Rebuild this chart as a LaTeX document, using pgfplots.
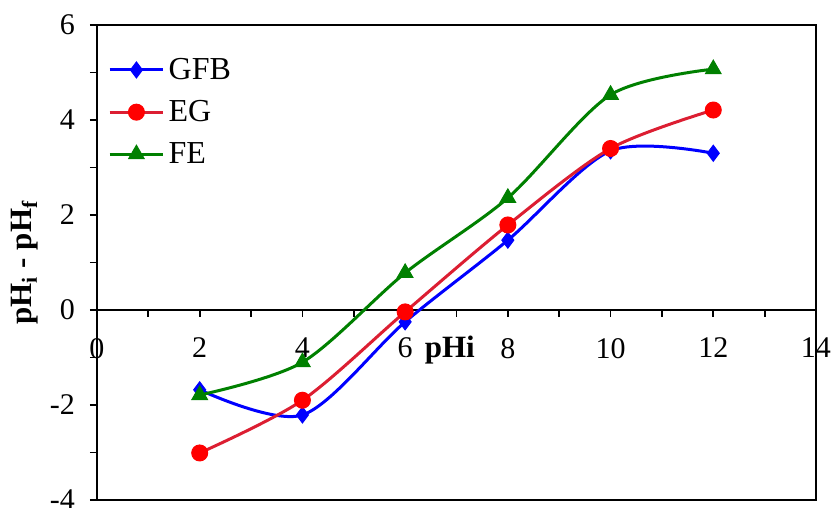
\documentclass[border=0pt]{standalone}
\usepackage{pgfplots}
\pgfplotsset{compat=1.18}
\usepackage{fontspec}
\setmainfont{Liberation Serif}
\definecolor{gfb}{RGB}{0,0,255}
\definecolor{egline}{RGB}{220,30,50}
\definecolor{egmark}{RGB}{255,0,0}
\definecolor{fe}{RGB}{0,128,0}
\begin{document}
\begin{tikzpicture}
\begin{axis}[
  scale only axis,
  width=359.5pt, height=237.5pt,
  xmin=0, xmax=14, ymin=-4, ymax=6,
  axis x line=middle, axis y line=left,
  hide obscured x ticks=false, hide obscured y ticks=false,
  x axis line style={-, line width=0.9pt},
  y axis line style={-, line width=0.9pt},
  xtick={0,2,...,14}, ytick={-4,-2,...,6},
  minor xtick={1,3,...,13}, minor ytick={-3,-1,...,5},
  tick align=outside,
  major tick length=3.5pt, minor tick length=3.5pt,
  tick style={black, line width=0.9pt},
  xticklabel style={yshift=-7pt},
  yticklabel style={xshift=-4pt},
  ticklabel style={font=\fontsize{15}{17}\selectfont},
  /pgf/number format/assume math mode=true,
  ylabel={\textbf{pH\textsubscript{i} - pH\textsubscript{f}}},
  every axis y label/.style={at={(rel axis cs:0,0.5)}, xshift=-36pt, rotate=90, anchor=center, font=\fontsize{15.5}{18}\selectfont},
  legend style={draw=none, fill=none, at={(rel axis cs:0.015,0.94)}, anchor=north west,
    font=\fontsize{16}{19}\selectfont, row sep=5pt, inner sep=0pt,
    /tikz/every even column/.append style={column sep=3pt}},
  legend cell align=left,
  legend image code/.code={\draw[mark repeat=2,mark phase=2] plot coordinates {(0cm,0cm) (0.47cm,0cm) (0.94cm,0cm)};},
  clip=false,
]
\addplot[color=gfb, line width=1.5pt, smooth, mark=diamond*, mark size=4pt, mark options={fill=gfb, draw=gfb, line width=0.5pt}]
  coordinates {(2,-1.68) (4,-2.21) (6,-0.25) (8,1.47) (10,3.35) (12,3.30)};
\addlegendentry{GFB}
\addplot[color=egline, line width=1.5pt, smooth, mark=*, mark size=4pt, mark options={fill=egmark, draw=egmark, line width=0.5pt}]
  coordinates {(2,-3.01) (4,-1.90) (6,-0.04) (8,1.79) (10,3.40) (12,4.21)};
\addlegendentry{EG}
\addplot[color=fe, line width=1.5pt, smooth, mark=triangle*, mark size=4.5pt, mark options={fill=fe, draw=fe, line width=0.5pt}]
  coordinates {(2,-1.79) (4,-1.10) (6,0.78) (8,2.36) (10,4.53) (12,5.07)};
\addlegendentry{FE}
\draw[line width=0.9pt] (rel axis cs:0,0) rectangle (rel axis cs:1,1);
\node[font=\bfseries\fontsize{15.5}{18}\selectfont] at (axis cs:6.87,-0.84) {pHi};
\coordinate (SW) at (rel axis cs:0,0);
\coordinate (NE) at (rel axis cs:1,1);
\end{axis}
\pgfresetboundingbox
\path[use as bounding box] ([shift={(-48.5pt,-4pt)}]SW) rectangle ([shift={(8pt,12.5pt)}]NE);
\end{tikzpicture}
\end{document}
